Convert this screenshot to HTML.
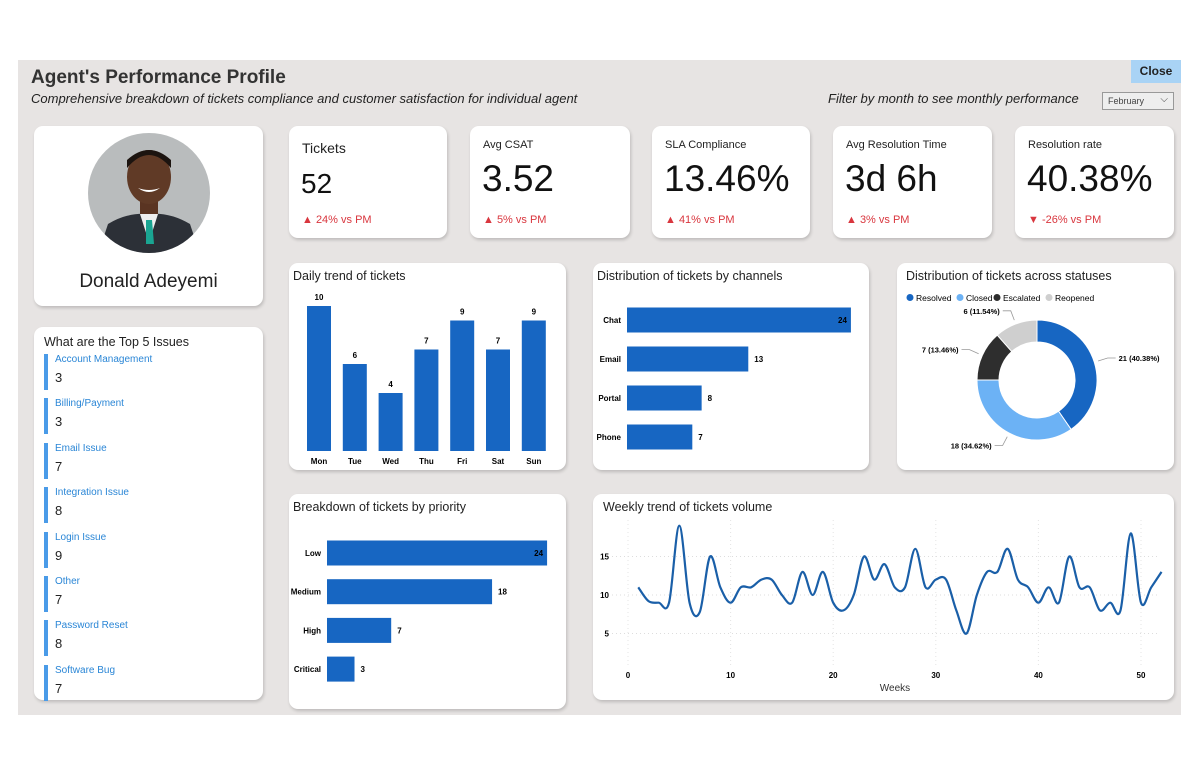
<!DOCTYPE html>
<html><head><meta charset="utf-8">
<style>
*{box-sizing:border-box;margin:0;padding:0}
body{width:1199px;height:776px;background:#fff;font-family:"Liberation Sans",sans-serif;position:relative;overflow:hidden;color:#222}
.abs{position:absolute}
.panel{position:absolute;left:18px;top:60px;width:1163px;height:655px;background:#e7e4e3}
.card{position:absolute;background:#fff;border-radius:9px;box-shadow:1px 2px 3px rgba(0,0,0,.18)}
.kt{position:absolute;left:13px;font-size:12px;color:#222}
.kv{position:absolute;left:12px;font-size:37px;color:#111}
.kd{position:absolute;left:13px;top:88px;font-size:11px;color:#d9363e}
.ct{position:absolute;left:4px;top:6px;font-size:12.5px;color:#222}
.iss{position:absolute;left:10px;width:200px;height:36px;border-left:4px solid #4a9be8;padding-left:7px}
.iss .n{font-size:10px;color:#2a86d6}
.iss .v{font-size:13px;color:#222;margin-top:5px}
</style></head><body>
<div class="panel"></div>
<div class="abs" style="left:31px;top:67px;font-size:19px;font-weight:bold;color:#333">Agent's Performance Profile</div>
<div class="abs" style="left:31px;top:91px;font-size:13px;font-style:italic;color:#222">Comprehensive breakdown of tickets compliance and customer satisfaction for individual agent</div>
<div class="abs" style="left:828px;top:91px;font-size:13px;font-style:italic;color:#222">Filter by month to see monthly performance</div>
<div class="abs" style="left:1102px;top:92px;width:72px;height:18px;border:1px solid #999;background:#eee;font-size:9px;padding:3px 5px;color:#444">February<span style="position:absolute;right:5px;top:1px;font-size:10px">⌵</span></div>
<div class="abs" style="left:1131px;top:60px;width:50px;height:23px;background:#a9d3f5;font-size:12px;font-weight:bold;text-align:center;line-height:23px;color:#222">Close</div>

<div class="card" style="left:34px;top:126px;width:229px;height:180px">
<svg class="abs" style="left:54px;top:6px" width="122" height="122">
<defs><clipPath id="c"><ellipse cx="61" cy="61" rx="61" ry="60"/></clipPath></defs>
<g clip-path="url(#c)"><rect width="122" height="122" fill="#b9bcbd"/>
<path d="M10 122 L20 92 Q40 80 61 82 Q82 80 102 92 L112 122Z" fill="#2c3037"/>
<path d="M52 82 L61 110 L70 82Z" fill="#eee"/><path d="M58 88 L64 88 L66 112 L58 112Z" fill="#1aa592"/>
<rect x="52" y="60" width="18" height="22" fill="#5a3422"/>
<ellipse cx="61" cy="45" rx="22" ry="27" fill="#603a26"/>
<path d="M39 36 Q61 10 83 36 L83 28 Q61 8 39 28Z" fill="#1c1410"/>
<path d="M50 56 Q61 64 72 56 Q61 60 50 56Z" fill="#fff"/></g></svg>
<div class="abs" style="left:0;width:229px;text-align:center;top:145px;font-size:19px;color:#222">Donald Adeyemi</div>
</div>

<div class="card" style="left:34px;top:327px;width:229px;height:373px">
<div class="abs" style="left:10px;top:8px;font-size:12.5px">What are the Top 5 Issues</div>
<div id="issues"></div>
</div>

<div id="kpis"></div>

<div class="card" style="left:289px;top:263px;width:277px;height:207px"><div class="ct">Daily trend of tickets</div></div>
<div class="card" style="left:593px;top:263px;width:276px;height:207px"><div class="ct">Distribution of tickets by channels</div></div>
<div class="card" style="left:897px;top:263px;width:277px;height:207px"><div class="ct" style="left:9px">Distribution of tickets across statuses</div></div>
<div class="card" style="left:289px;top:494px;width:277px;height:215px"><div class="ct">Breakdown of tickets by priority</div></div>
<div class="card" style="left:593px;top:494px;width:581px;height:206px"><div class="ct" style="left:10px">Weekly trend of tickets volume</div></div>

<svg id="ch" class="abs" style="left:0;top:0" width="1199" height="776"></svg>

<script>
const issueNames=["Account Management","Billing/Payment","Email Issue","Integration Issue","Login Issue","Other","Password Reset","Software Bug"];
const issueVals=[3,3,7,8,9,7,8,7];
const kpiTitles=["Tickets","Avg CSAT","SLA Compliance","Avg Resolution Time","Resolution rate"];
const kpiValues=["52","3.52","13.46%","3d 6h","40.38%"];
const kpiDeltas=["▲ 24% vs PM","▲ 5% vs PM","▲ 41% vs PM","▲ 3% vs PM","▼ -26% vs PM"];
const days=["Mon","Tue","Wed","Thu","Fri","Sat","Sun"];
const dayVals=[10,6,4,7,9,7,9];
const channels=["Chat","Email","Portal","Phone"];
const channelVals=[24,13,8,7];
const priorities=["Low","Medium","High","Critical"];
const priorityVals=[24,18,7,3];
const statuses=["Resolved","Closed","Escalated","Reopened"];
const statusVals=[21,18,7,6];
const weeklyVals=[11,9.2,9,9,19,9,7.8,15,11,9,11,11,12,12,10,9,13,10,13,9,8,10,15,12,14,11,11,16,11,12,12,8,5,10,13,13,16,12,11,9,11,9,15,11,11,8,9,8,18,9,11,13];
const weekTicks=[0,10,20,30,40,50];
const weeklyYTicks=[5,10,15];

const iss=document.getElementById('issues');
issueNames.forEach((n,i)=>{const d=document.createElement('div');d.className='iss';d.style.top=(27+i*44.4)+'px';


d.innerHTML='<div class="n">'+n+'</div><div class="v">'+issueVals[i]+'</div>';iss.appendChild(d);});

const kx=[289,470,652,833,1015],kw=[158,160,158,159,159];
const kp=document.getElementById('kpis');
kpiTitles.forEach((t,i)=>{const c=document.createElement('div');c.className='card';


c.style.cssText=`left:${kx[i]}px;top:126px;width:${kw[i]}px;height:112px`;
const big=i===0;
c.innerHTML=`<div class="kt" style="top:${big?14:13}px;font-size:${big?14:11}px">${t}</div><div class="kv" style="top:${big?42:32}px;font-size:${big?28:37}px">${kpiValues[i]}</div><div class="kd">${kpiDeltas[i]}</div>`;
kp.appendChild(c);});

const svg=document.getElementById('ch');const NS='http://www.w3.org/2000/svg';
function el(tag,a,txt){const e=document.createElementNS(NS,tag);for(const k in a)e.setAttribute(k,a[k]);if(txt!==undefined)e.textContent=txt;svg.appendChild(e);return e;}
const BLUE='#1766c2';
const dY=v=>451-v*14.5, dX=i=>319+i*35.8;
days.forEach((d,i)=>{const b=el('rect',{x:dX(i)-12,y:dY(dayVals[i]),width:24,height:451-dY(dayVals[i]),fill:BLUE});


el('text',{x:dX(i),y:dY(dayVals[i])-6,'font-size':8,'font-weight':'bold','text-anchor':'middle'},dayVals[i]);
el('text',{x:dX(i),y:464,'font-size':8,'font-weight':'bold','text-anchor':'middle'},d);});
const cX=v=>627+v*9.33;
channels.forEach((c,i)=>{const y=320+i*39;const b=el('rect',{x:627,y:y-12.5,width:cX(channelVals[i])-627,height:25,fill:BLUE});


el('text',{x:621,y:y+3,'font-size':8,'font-weight':'bold','text-anchor':'end'},c);
const inside=i===0;el('text',{x:inside?cX(channelVals[i])-4:cX(channelVals[i])+6,y:y+3,'font-size':8,'font-weight':'bold','text-anchor':inside?'end':'start'},channelVals[i]);});
const pX=v=>327+v*9.17;
priorities.forEach((c,i)=>{const y=553+i*38.7;const b=el('rect',{x:327,y:y-12.5,width:pX(priorityVals[i])-327,height:25,fill:BLUE});


el('text',{x:321,y:y+3,'font-size':8,'font-weight':'bold','text-anchor':'end'},c);
const inside=i===0;el('text',{x:inside?pX(priorityVals[i])-4:pX(priorityVals[i])+6,y:y+3,'font-size':8,'font-weight':'bold','text-anchor':inside?'end':'start'},priorityVals[i]);});
const cols=['#1766c2','#6cb2f5','#2e2e2e','#cfcfcf'];
const tot=statusVals.reduce((a,b)=>a+b,0);let a0=-Math.PI/2;const cx=1037,cy=380,R=60,r=38;
statuses.forEach((s,i)=>{const a1=a0+statusVals[i]/tot*2*Math.PI;const lg=a1-a0>Math.PI?1:0;
const p=`M${cx+R*Math.cos(a0)} ${cy+R*Math.sin(a0)} A${R} ${R} 0 ${lg} 1 ${cx+R*Math.cos(a1)} ${cy+R*Math.sin(a1)} L${cx+r*Math.cos(a1)} ${cy+r*Math.sin(a1)} A${r} ${r} 0 ${lg} 0 ${cx+r*Math.cos(a0)} ${cy+r*Math.sin(a0)}Z`;
const sl=el('path',{d:p,fill:cols[i],stroke:'#fff','stroke-width':1});


const am=(a0+a1)/2;const ox=cx+(R+4)*Math.cos(am),oy=cy+(R+4)*Math.sin(am);const right=Math.cos(am)>0;
const ex=cx+(R+14)*Math.cos(am),ey=cy+(R+14)*Math.sin(am);const hx=ex+(right?8:-8);
el('polyline',{points:`${ox},${oy} ${ex},${ey} ${hx},${ey}`,fill:'none',stroke:'#999','stroke-width':0.8});
el('text',{x:hx+(right?3:-3),y:ey+3,'font-size':7.5,'font-weight':'bold','text-anchor':right?'start':'end'},`${statusVals[i]} (${(statusVals[i]/tot*100).toFixed(2)}%)`);
a0=a1;
const lx=[906,956,993,1045][i];el('circle',{cx:lx+4,cy:297.5,r:3.5,fill:cols[i]});
el('text',{x:lx+10,y:301,'font-size':8.5},s);});
const wX=w=>628+w*10.26, wY=v=>672-v*7.7;
weeklyYTicks.forEach(t=>{el('line',{x1:612,x2:1160,y1:wY(t),y2:wY(t),stroke:'#ddd','stroke-dasharray':'1 3'});
el('text',{x:609,y:wY(t)+3,'font-size':8,'font-weight':'bold','text-anchor':'end'},t);});
weekTicks.forEach(t=>{el('line',{x1:wX(t),x2:wX(t),y1:520,y2:665,stroke:'#e4e4e4','stroke-dasharray':'1 3'});
el('text',{x:wX(t),y:678,'font-size':8,'font-weight':'bold','text-anchor':'middle'},t);});
el('text',{x:895,y:691,'font-size':10,'text-anchor':'middle',fill:'#333'},'Weeks');
const pts=weeklyVals.map((v,i)=>[wX(i+1),wY(v)]);
let d=`M${pts[0][0]} ${pts[0][1]}`;
for(let i=0;i<pts.length-1;i++){const p0=pts[Math.max(0,i-1)],p1=pts[i],p2=pts[i+1],p3=pts[Math.min(pts.length-1,i+2)];
d+=` C${p1[0]+(p2[0]-p0[0])/6} ${p1[1]+(p2[1]-p0[1])/6} ${p2[0]-(p3[0]-p1[0])/6} ${p2[1]-(p3[1]-p1[1])/6} ${p2[0]} ${p2[1]}`;}
const ln=el('path',{d:d,fill:'none',stroke:'#1a5fa8','stroke-width':2.2});


</script>
</body></html>
